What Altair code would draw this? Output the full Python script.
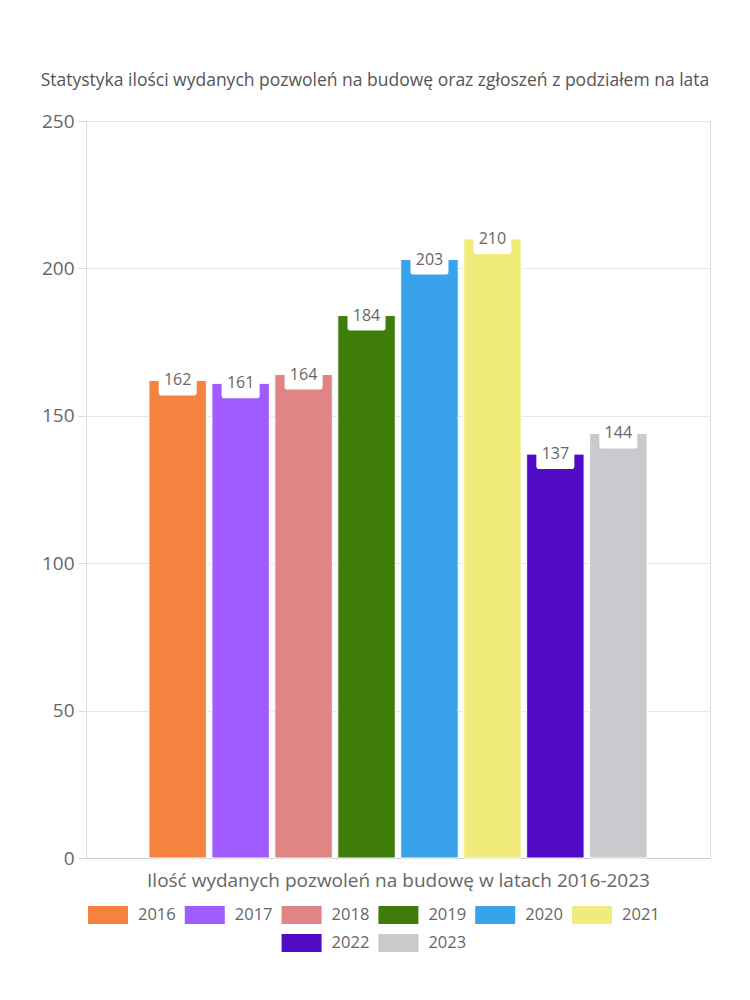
import altair as alt
import pandas as pd

years = ["2016", "2017", "2018", "2019", "2020", "2021", "2022", "2023"]
values = [162, 161, 164, 184, 203, 210, 137, 144]
colors = ["#f5833f", "#a05cff", "#e08585", "#3f7d0b", "#38a3ea", "#f0ec7c", "#520bc4", "#c9cacd"]
legend_col = [0, 1, 2, 3, 4, 5, 2, 3]
legend_row = [0, 0, 0, 0, 0, 0, 1, 1]

title_text = "Statystyka ilości wydanych pozwoleń na budowę oraz zgłoszeń z podziałem na lata"
x_title = "Ilość wydanych pozwoleń na budowę w latach 2016-2023"
y_ticks = [0, 50, 100, 150, 200, 250]

FONT = "Open Sans"
TXT = "#666666"

df = pd.DataFrame({"year": years, "value": values, "col": legend_col, "row": legend_row})

color_scale = alt.Scale(domain=years, range=colors)
x_enc = alt.X(
    "year:N",
    sort=years,
    scale=alt.Scale(paddingInner=0.087, paddingOuter=1),
    axis=alt.Axis(
        labels=False, ticks=False, title=x_title, titleFont=FONT, titleFontSize=19,
        titleFontWeight="normal", titleColor=TXT, titlePadding=13,
        domainColor="#cccccc", grid=False,
    ),
)
y_enc = alt.Y(
    "value:Q",
    scale=alt.Scale(domain=[0, 250], nice=False),
    axis=alt.Axis(
        values=y_ticks, title=None, domain=False, tickColor="#d8d8d8", tickSize=8,
        labelFont=FONT, labelFontSize=19, labelColor=TXT, labelPadding=4,
        gridColor="#e6e6e6",
    ),
)

base = alt.Chart(df)
bars = base.mark_bar(stroke="white", strokeWidth=1).encode(
    x=x_enc, y=y_enc,
    color=alt.Color("year:N", scale=color_scale, legend=None),
)

box_path = ("M-0.85,-0.632 H0.85 Q1,-0.632 1,-0.48 V0.64 Q1,0.789 0.85,0.789 "
            "H-0.85 Q-1,0.789 -1,0.64 V-0.48 Q-1,-0.632 -0.85,-0.632 Z")
boxes = base.mark_point(shape=box_path, size=1444, filled=True, fill="white",
                        opacity=1, strokeWidth=0).encode(
    x=alt.X("year:N", sort=years), y="value:Q"
)
labels = base.mark_text(font=FONT, fontSize=16, color=TXT, baseline="middle").encode(
    x=alt.X("year:N", sort=years), y="value:Q", text="value:Q"
)

main = alt.layer(bars, boxes, labels).properties(
    width=624, height=737,
    title=alt.TitleParams(title_text, font=FONT, fontSize=17.5, fontWeight="normal",
                          color="#555555", anchor="middle", dx=-23, offset=23),
)

rect_path = "M-1,-0.45 H1 V0.45 H-1 Z"
leg_base = alt.Chart(df).encode(
    x=alt.X("col:O", axis=None, scale=alt.Scale(domain=[0, 1, 2, 3, 4, 5], padding=0.227)),
    y=alt.Y("row:O", axis=None, scale=alt.Scale(domain=[0, 1], padding=0.5)),
)
leg_sym = leg_base.mark_point(shape=rect_path, size=1600, filled=True, opacity=1,
                              strokeWidth=0).encode(
    color=alt.Color("year:N", scale=color_scale, legend=None)
)
leg_txt = leg_base.mark_text(font=FONT, fontSize=16.5, color=TXT, align="left",
                             baseline="middle", dx=30).encode(text="year:N")
legend = alt.layer(leg_sym, leg_txt).properties(
    width=528, height=56, view=alt.ViewBackground(stroke="transparent")
)

chart = alt.vconcat(main, legend, spacing=9).properties(
    padding={"left": 40, "top": 71, "right": 10, "bottom": 10}
).configure_view(stroke="#e6e6e6").configure(background="white")

chart.save("out.html", embed_options={"renderer": "svg", "actions": False})
